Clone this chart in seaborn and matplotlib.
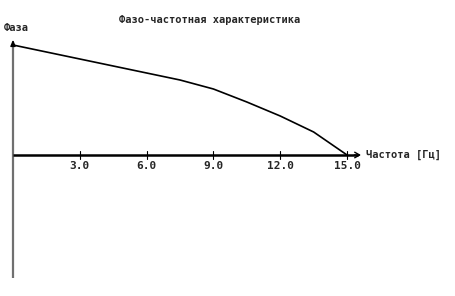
import matplotlib
matplotlib.use("Agg")
import matplotlib.pyplot as plt
import seaborn as sns
import pandas as pd

freq = [0, 1.5, 3, 4.5, 6, 7.5, 9, 10.5, 12, 13.5, 15]
phase = [110, 103, 96, 89, 82, 75, 66, 53, 39, 23, 0]
tick_vals = [3, 6, 9, 12, 15]
tick_labels = ["3.0", "6.0", "9.0", "12.0", "15.0"]
title = "Фазо-частотная характеристика"
ylabel = "Фаза"
xlabel = "Частота [Гц]"

sns.set_style("white")
plt.rcParams['font.family'] = ['DejaVu Sans Mono', 'DejaVu Sans']

fig = plt.figure(figsize=(4.55, 2.96), dpi=100)
ax = fig.add_axes([0, 0, 1, 1])
ax.set_xlim(-13 / 22.27, (455 - 13) / 22.27)
ax.set_ylim(-141, 155)
ax.axis("off")

df = pd.DataFrame({"f": freq, "p": phase})
sns.lineplot(data=df, x="f", y="p", ax=ax, color="black", linewidth=1.2)

# y axis
ax.plot([0, 0], [-123, 113], color="#707070", lw=1.6, solid_capstyle="butt")
ax.annotate("", xy=(0, 118), xytext=(0, 108),
            arrowprops=dict(arrowstyle="-|>,head_width=0.15,head_length=0.35", color="black", lw=1))
# x axis
ax.plot([0, 15.5], [0, 0], color="black", lw=1.8, solid_capstyle="butt")
ax.annotate("", xy=(15.75, 0), xytext=(15.2, 0),
            arrowprops=dict(arrowstyle="->,head_width=0.2,head_length=0.35", color="black", lw=1))

for t, lab in zip(tick_vals, tick_labels):
    ax.plot([t, t], [-4, 4], color="black", lw=0.8)
    ax.text(t, -11, lab, ha="center", va="center", fontsize=8, fontweight="bold")

ax.text(210 / 22.27 - 13 / 22.27, 155 - 20, title, ha="center", va="center", fontsize=7.5, fontweight="bold")
ax.text(-9 / 22.27, 155 - 28, ylabel, ha="left", va="center", fontsize=7.5, fontweight="bold")
ax.text((366 - 13) / 22.27, 0, xlabel, ha="left", va="center", fontsize=7.5, fontweight="bold")

fig.savefig("out.png", dpi=100)
